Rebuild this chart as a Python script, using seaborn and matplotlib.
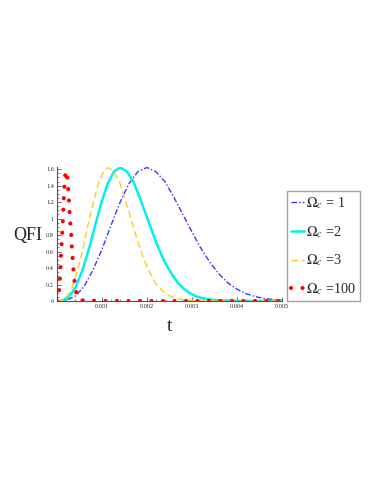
import numpy as np
import pandas as pd
import matplotlib
matplotlib.use("Agg")
import matplotlib.pyplot as plt
import seaborn as sns

# QFI curves, one list per Omega_c
t_om1 = [0, 0.0002, 0.0004, 0.0006, 0.0008, 0.001, 0.0012, 0.0014, 0.0016, 0.0018,
         0.002, 0.0022, 0.0024, 0.0026, 0.0028, 0.003, 0.0032, 0.0034, 0.0036, 0.0038,
         0.004, 0.0042, 0.0044, 0.0046, 0.0048, 0.005]
qfi_om1 = [0, 0.007, 0.055, 0.17, 0.37, 0.62, 0.91, 1.19, 1.42, 1.57,
           1.62, 1.57, 1.45, 1.26, 1.05, 0.84, 0.64, 0.47, 0.33, 0.22,
           0.144, 0.09, 0.054, 0.032, 0.018, 0.01]

t_om2 = [0, 0.00014, 0.00028, 0.00042, 0.00057, 0.00071, 0.00085, 0.00099, 0.00113, 0.00127,
         0.00141, 0.00156, 0.0017, 0.00184, 0.00198, 0.00212, 0.00226, 0.0024, 0.00255, 0.00269,
         0.00283, 0.00297, 0.00311, 0.00325, 0.0034, 0.00354, 0.004, 0.005]
qfi_om2 = [0, 0.007, 0.055, 0.17, 0.37, 0.62, 0.91, 1.19, 1.42, 1.57,
           1.62, 1.57, 1.45, 1.26, 1.05, 0.84, 0.64, 0.47, 0.33, 0.22,
           0.144, 0.09, 0.054, 0.032, 0.018, 0.01, 0.002, 0]

t_om3 = [0, 0.00012, 0.00023, 0.00035, 0.00046, 0.00058, 0.00069, 0.00081, 0.00092, 0.00104,
         0.00115, 0.00127, 0.00139, 0.0015, 0.00162, 0.00173, 0.00185, 0.00196, 0.00208, 0.00219,
         0.00231, 0.00242, 0.00254, 0.00266, 0.00277, 0.00289, 0.004, 0.005]
qfi_om3 = [0, 0.007, 0.055, 0.17, 0.37, 0.62, 0.91, 1.19, 1.42, 1.57,
           1.62, 1.57, 1.45, 1.26, 1.05, 0.84, 0.64, 0.47, 0.33, 0.22,
           0.144, 0.09, 0.054, 0.032, 0.018, 0.01, 0, 0]

t_om100 = [0, 0.00002, 0.00004, 0.00006, 0.00008, 0.0001, 0.00013, 0.00015, 0.00017, 0.00019,
           0.00021, 0.00023, 0.00025, 0.00027, 0.00029, 0.00032, 0.00034, 0.00036, 0.00038, 0.0004,
           0.00042, 0.00044, 0.00046, 0.00048, 0.0005, 0.00053, 0.001, 0.002, 0.003, 0.004, 0.005]
qfi_om100 = [0, 0.007, 0.053, 0.167, 0.357, 0.608, 0.891, 1.164, 1.387, 1.532,
             1.58, 1.535, 1.411, 1.232, 1.027, 0.818, 0.623, 0.455, 0.32, 0.216,
             0.14, 0.088, 0.053, 0.031, 0.017, 0.009, 0, 0, 0, 0, 0]

labels = [r"$\Omega_c$ = 1", r"$\Omega_c$ =2", r"$\Omega_c$ =3", r"$\Omega_c$ =100"]

x_ticks = [0.001, 0.002, 0.003, 0.004, 0.005]
x_ticklabels = ["0.001", "0.002", "0.003", "0.004", "0.005"]
y_ticks = [0, 0.2, 0.4, 0.6, 0.8, 1.0, 1.2, 1.4, 1.6]
y_ticklabels = ["0", "0.2", "0.4", "0.6", "0.8", "1", "1.2", "1.4", "1.6"]

sns.set_style("ticks")
plt.rcParams["font.family"] = ["Liberation Serif", "DejaVu Serif"]
plt.rcParams["mathtext.fontset"] = "stix"

fig = plt.figure(figsize=(3.87, 5.01), dpi=100)
ax = fig.add_axes([0.1465, 0.3992, 0.5822, 0.2681])

sns.lineplot(x=t_om1, y=qfi_om1, ax=ax, color="#3a3aff", linewidth=1.0,
             linestyle=(0, (4, 1.5, 1, 1.5)), sort=False, label=labels[0])
sns.lineplot(x=t_om2, y=qfi_om2, ax=ax, color="#00f0f0", linewidth=1.8,
             linestyle="-", sort=False, label=labels[1])
sns.lineplot(x=t_om3, y=qfi_om3, ax=ax, color="#ffcc22", linewidth=1.0,
             linestyle=(0, (5, 2.5)), sort=False, label=labels[2])
sns.lineplot(x=t_om100, y=qfi_om100, ax=ax, color="#ff0000", linewidth=3.0,
             linestyle=(0, (0.01, 2.75)), dash_capstyle="round", sort=False, label=labels[3])

ax.set_xlim(0, 0.005)
ax.set_ylim(0, 1.63)
ax.set_xticks(x_ticks)
ax.set_xticklabels(x_ticklabels)
ax.set_yticks(y_ticks)
ax.set_yticklabels(y_ticklabels)
ax.set_xticks(np.arange(0, 0.0051, 0.0002), minor=True)
ax.set_yticks(np.arange(0, 1.63, 0.05), minor=True)
ax.tick_params(axis="both", which="major", direction="in", length=3, width=0.6,
               labelsize=4.5, pad=2, color="#555555")
ax.tick_params(axis="both", which="minor", direction="in", length=1.5, width=0.5,
               color="#555555")
sns.despine(ax=ax)
for side in ["left", "bottom"]:
    ax.spines[side].set_color("#555555")
    ax.spines[side].set_linewidth(0.8)

ax.set_ylabel("QFI", fontsize=13, rotation=0, va="center", ha="center")
ax.yaxis.set_label_coords(-0.127, 0.49)
ax.set_xlabel("t", fontsize=14, va="center")
ax.xaxis.set_label_coords(0.503, -0.19)

leg = ax.legend(loc="upper left", bbox_to_anchor=(0.7416, 0.6188),
                bbox_transform=fig.transFigure, fontsize=10.3, frameon=True,
                fancybox=False, edgecolor="#888888", handlelength=0.9,
                handletextpad=0.12, labelspacing=0.9, borderpad=0.3,
                borderaxespad=0)
leg.get_frame().set_linewidth(1.0)

fig.savefig("out.png", dpi=100)
plt.close(fig)
